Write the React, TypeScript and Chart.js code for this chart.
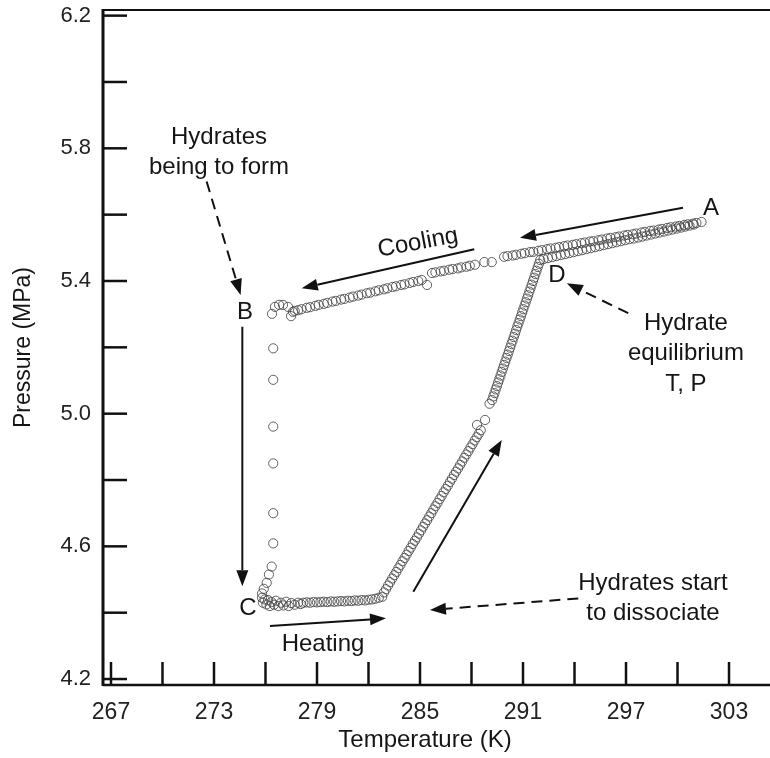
import React, { useEffect, useRef } from "react";
import { Chart, registerables } from "chart.js";
Chart.register(...registerables);

// Axis ticks (every 3 K / 0.2 MPa; every other one labelled)
const xTicks = [267, 270, 273, 276, 279, 282, 285, 288, 291, 294, 297, 300, 303];
const yTicks = [4.2, 4.4, 4.6, 4.8, 5.0, 5.2, 5.4, 5.6, 5.8, 6.0, 6.2];

// Cooling from A (upper band)
const coolingA: [number, number][] = [
  [301.4, 5.578], [301.1, 5.575], [300.9, 5.573], [300.6, 5.571], [300.4, 5.569], [300.1, 5.566],
  [299.9, 5.564], [299.6, 5.562], [299.4, 5.56], [299.1, 5.557], [298.9, 5.555], [298.6, 5.552],
  [298.4, 5.551], [298.1, 5.548], [297.9, 5.546], [297.6, 5.543], [297.4, 5.541], [297.1, 5.539],
  [296.9, 5.537], [296.6, 5.534], [296.4, 5.532], [296.1, 5.53], [295.9, 5.528], [295.6, 5.525],
  [295.4, 5.523], [295.1, 5.52], [294.9, 5.519], [294.6, 5.516], [294.4, 5.514], [294.1, 5.511],
  [293.9, 5.509], [293.6, 5.507], [293.4, 5.505], [293.1, 5.502], [292.9, 5.5], [292.6, 5.498],
  [292.4, 5.496], [292.1, 5.493], [291.9, 5.491], [291.6, 5.488], [291.4, 5.487], [291.1, 5.484],
  [290.9, 5.482], [290.6, 5.479], [290.4, 5.477], [290.1, 5.475], [289.9, 5.473],
  [289.18, 5.457], [288.75, 5.457],
];

// Cooling, middle part
const coolingMid: [number, number][] = [
  [288.2, 5.449], [287.9, 5.446], [287.7, 5.443], [287.4, 5.441], [287.2, 5.438], [286.9, 5.436],
  [286.7, 5.434], [286.4, 5.431], [286.2, 5.429], [285.9, 5.426], [285.7, 5.424], [285.41, 5.388],
];

// Cooling, approaching B
const coolingB: [number, number][] = [
  [285.1, 5.403], [284.9, 5.4], [284.6, 5.397], [284.4, 5.394], [284.1, 5.39], [283.9, 5.388],
  [283.6, 5.384], [283.4, 5.382], [283.1, 5.378], [282.9, 5.375], [282.6, 5.372], [282.4, 5.369],
  [282.1, 5.365], [281.9, 5.363], [281.6, 5.359], [281.4, 5.356], [281.1, 5.353], [280.9, 5.35],
  [280.6, 5.346], [280.4, 5.344], [280.1, 5.34], [279.9, 5.338], [279.6, 5.334], [279.4, 5.331],
  [279.1, 5.328], [278.9, 5.325], [278.6, 5.321], [278.4, 5.319], [278.1, 5.315], [277.9, 5.312],
  [277.7, 5.31], [277.6, 5.307], [277.49, 5.294], [277.31, 5.322], [277.02, 5.328], [276.79, 5.328],
  [276.55, 5.322], [276.38, 5.301],
];

// Hydrate formation: pressure drop B -> C
const dropBC: [number, number][] = [
  [276.45, 5.197], [276.45, 5.102], [276.45, 4.961], [276.45, 4.85], [276.45, 4.7], [276.45, 4.609],
  [276.36, 4.539], [276.2, 4.515], [276.07, 4.49], [275.9, 4.472], [275.8, 4.458],
];

// Heating from C (flat part)
const heatingC: [number, number][] = [
  [275.8, 4.445], [275.85, 4.43], [275.95, 4.44], [276.05, 4.425], [276.15, 4.438], [276.25, 4.42],
  [276.35, 4.432], [276.5, 4.424], [276.6, 4.436], [276.75, 4.42], [276.9, 4.43], [277.05, 4.422],
  [277.2, 4.433], [277.35, 4.42], [277.5, 4.429], [277.7, 4.424], [277.9, 4.43], [278.05, 4.426],
  [278.2, 4.43], [278.4, 4.431], [278.6, 4.43], [278.8, 4.432], [279.0, 4.431], [279.2, 4.432],
  [279.4, 4.433], [279.6, 4.432], [279.8, 4.434], [280.0, 4.433], [280.2, 4.434], [280.4, 4.435],
  [280.6, 4.434], [280.8, 4.436], [281.0, 4.435], [281.2, 4.437], [281.4, 4.436], [281.6, 4.438],
  [281.8, 4.437], [282.0, 4.439], [282.2, 4.44], [282.4, 4.442], [282.6, 4.445], [282.8, 4.448],
];

// Heating: hydrates dissociating
const heatingDiss: [number, number][] = [
  [282.9, 4.461], [283.02, 4.471], [283.14, 4.482], [283.26, 4.492], [283.38, 4.503], [283.5, 4.513],
  [283.62, 4.523], [283.74, 4.534], [283.86, 4.544], [283.98, 4.555], [284.1, 4.565], [284.22, 4.575],
  [284.34, 4.586], [284.46, 4.596], [284.58, 4.607], [284.7, 4.617], [284.82, 4.627], [284.94, 4.638],
  [285.06, 4.648], [285.18, 4.659], [285.3, 4.669], [285.42, 4.679], [285.54, 4.69], [285.66, 4.7],
  [285.78, 4.711], [285.9, 4.721], [286.02, 4.731], [286.14, 4.742], [286.26, 4.752], [286.38, 4.763],
  [286.5, 4.773], [286.62, 4.783], [286.74, 4.794], [286.86, 4.804], [286.98, 4.815], [287.1, 4.825],
  [287.22, 4.835], [287.34, 4.846], [287.46, 4.856], [287.58, 4.867], [287.7, 4.877], [287.82, 4.887],
  [287.94, 4.898], [288.06, 4.908], [288.18, 4.919], [288.3, 4.929], [288.42, 4.939], [288.54, 4.95],
  [288.32, 4.966], [288.79, 4.981],
];

// Heating up to D
const heatingD: [number, number][] = [
  [289.05, 5.03], [289.2, 5.041], [289.27, 5.052], [289.34, 5.062], [289.41, 5.073], [289.48, 5.083],
  [289.55, 5.094], [289.62, 5.104], [289.69, 5.115], [289.76, 5.126], [289.83, 5.136], [289.9, 5.147],
  [289.97, 5.157], [290.04, 5.168], [290.11, 5.178], [290.18, 5.189], [290.25, 5.199], [290.32, 5.21],
  [290.39, 5.22], [290.46, 5.231], [290.53, 5.241], [290.6, 5.252], [290.67, 5.263], [290.74, 5.273],
  [290.81, 5.284], [290.88, 5.294], [290.95, 5.305], [291.02, 5.315], [291.09, 5.326], [291.16, 5.336],
  [291.23, 5.347], [291.3, 5.357], [291.37, 5.368], [291.44, 5.378], [291.51, 5.389], [291.58, 5.4],
  [291.65, 5.41], [291.72, 5.421], [291.79, 5.431], [291.86, 5.442], [291.93, 5.452], [292.0, 5.463],
];

// Heating from D back towards A (lower band)
const heatingA: [number, number][] = [
  [292.2, 5.466], [292.45, 5.469], [292.7, 5.472], [292.95, 5.475], [293.2, 5.478], [293.45, 5.481],
  [293.7, 5.484], [293.95, 5.487], [294.2, 5.49], [294.45, 5.493], [294.7, 5.496], [294.95, 5.499],
  [295.2, 5.502], [295.45, 5.505], [295.7, 5.508], [295.95, 5.511], [296.2, 5.514], [296.45, 5.517],
  [296.7, 5.52], [296.95, 5.523], [297.2, 5.526], [297.45, 5.528], [297.7, 5.531], [297.95, 5.534],
  [298.2, 5.537], [298.45, 5.54], [298.7, 5.543], [298.95, 5.546], [299.2, 5.549], [299.45, 5.552],
  [299.7, 5.555], [299.95, 5.558], [300.2, 5.561], [300.45, 5.564], [300.7, 5.567], [300.95, 5.57],
];

const series = [coolingA, coolingMid, coolingB, dropBC, heatingC, heatingDiss, heatingD, heatingA];

// Annotations (data coordinates: K, MPa)
type Note = { lines: string[]; x: number; y: number; rot?: number };
const notes: Note[] = [
  { lines: ["A"], x: 301.95, y: 5.62 },
  { lines: ["B"], x: 274.81, y: 5.304 },
  { lines: ["C"], x: 274.98, y: 4.414 },
  { lines: ["D"], x: 292.98, y: 5.418 },
  { lines: ["Cooling"], x: 284.88, y: 5.515, rot: -10.5 },
  { lines: ["Heating"], x: 279.35, y: 4.303 },
  { lines: ["Hydrates", "being to form"], x: 273.29, y: 5.834 },
  { lines: ["Hydrate", "equilibrium", "T, P"], x: 300.49, y: 5.273 },
  { lines: ["Hydrates start", "to dissociate"], x: 298.57, y: 4.489 },
];

type Arrow = { from: [number, number]; to: [number, number]; dashed?: boolean };
const arrows: Arrow[] = [
  { from: [300.32, 5.621], to: [290.82, 5.53] },
  { from: [288.16, 5.496], to: [278.11, 5.378] },
  { from: [274.65, 5.262], to: [274.65, 4.48] },
  { from: [276.26, 4.36], to: [283.02, 4.383] },
  { from: [284.61, 4.463], to: [289.76, 4.921] },
  { from: [294.22, 4.443], to: [285.58, 4.408], dashed: true },
  { from: [272.57, 5.7], to: [274.55, 5.358], dashed: true },
  { from: [297.13, 5.303], to: [293.55, 5.393], dashed: true },
];

const FONT = '"Liberation Sans", Arial, Helvetica, sans-serif';

function drawArrow(ctx: CanvasRenderingContext2D, x1: number, y1: number, x2: number, y2: number, dashed?: boolean) {
  const ang = Math.atan2(y2 - y1, x2 - x1);
  const hl = 16;
  const hw = 6;
  const bx = x2 - hl * Math.cos(ang);
  const by = y2 - hl * Math.sin(ang);
  ctx.lineWidth = 2;
  ctx.setLineDash(dashed ? [11, 7] : []);
  ctx.beginPath();
  ctx.moveTo(x1, y1);
  ctx.lineTo(bx, by);
  ctx.stroke();
  ctx.setLineDash([]);
  ctx.beginPath();
  ctx.moveTo(x2, y2);
  ctx.lineTo(bx + hw * Math.sin(ang), by - hw * Math.cos(ang));
  ctx.lineTo(bx - hw * Math.sin(ang), by + hw * Math.cos(ang));
  ctx.closePath();
  ctx.fill();
}

const overlay = {
  id: "overlay",
  afterDatasetsDraw(chart: any) {
    const { ctx, chartArea, scales } = chart;
    const xs = scales.x;
    const ys = scales.y;
    ctx.save();
    ctx.strokeStyle = "#111";
    ctx.fillStyle = "#111";
    // frame
    ctx.lineWidth = 2;
    ctx.beginPath();
    ctx.moveTo(chartArea.left, chartArea.top);
    ctx.lineTo(chartArea.right, chartArea.top);
    ctx.stroke();
    ctx.lineWidth = 3;
    ctx.beginPath();
    ctx.moveTo(chartArea.left, chartArea.top - 1);
    ctx.lineTo(chartArea.left, chartArea.bottom + 1);
    ctx.stroke();
    ctx.lineWidth = 2.5;
    ctx.beginPath();
    ctx.moveTo(chartArea.left, chartArea.bottom);
    ctx.lineTo(chartArea.right, chartArea.bottom);
    ctx.stroke();
    // inward ticks
    ctx.lineWidth = 2.5;
    ys.ticks.forEach((t: any) => {
      const py = ys.getPixelForValue(t.value);
      ctx.beginPath();
      ctx.moveTo(chartArea.left, py);
      ctx.lineTo(chartArea.left + 24, py);
      ctx.stroke();
    });
    xs.ticks.forEach((t: any) => {
      const px = xs.getPixelForValue(t.value);
      ctx.beginPath();
      ctx.moveTo(px, chartArea.bottom);
      ctx.lineTo(px, chartArea.bottom - 23);
      ctx.stroke();
    });
    // arrows
    arrows.forEach((a) => {
      drawArrow(
        ctx,
        xs.getPixelForValue(a.from[0]),
        ys.getPixelForValue(a.from[1]),
        xs.getPixelForValue(a.to[0]),
        ys.getPixelForValue(a.to[1]),
        a.dashed
      );
    });
    // texts
    ctx.font = `24px ${FONT}`;
    ctx.fillStyle = "#151515";
    ctx.textAlign = "center";
    ctx.textBaseline = "middle";
    notes.forEach((n) => {
      const px = xs.getPixelForValue(n.x);
      const py = ys.getPixelForValue(n.y);
      ctx.save();
      ctx.translate(px, py);
      if (n.rot) ctx.rotate((n.rot * Math.PI) / 180);
      n.lines.forEach((l, i) => ctx.fillText(l, 0, i * 30.5));
      ctx.restore();
    });
    // x-axis title
    ctx.fillText("Temperature (K)", 425, 740);
    ctx.restore();
  },
};

export default function App() {
  const ref = useRef<HTMLCanvasElement | null>(null);
  useEffect(() => {
    if (!ref.current) return;
    const chart = new Chart(ref.current, {
      type: "scatter",
      data: {
        datasets: series.map((s) => ({
          data: s.map(([x, y]) => ({ x, y })),
          pointStyle: "circle",
          pointRadius: 4.6,
          pointBorderWidth: 1,
          borderColor: "rgba(70,70,70,0.85)",
          backgroundColor: "rgba(0,0,0,0)",
          showLine: false,
        })),
      },
      options: {
        animation: false,
        responsive: false,
        events: [],
        layout: { autoPadding: false, padding: { top: 10, right: 0, left: 0, bottom: 0 } },
        plugins: { legend: { display: false }, tooltip: { enabled: false } },
        scales: {
          x: {
            type: "linear",
            min: 266.534,
            max: 305.388,
            grid: { display: false, drawTicks: false },
            border: { display: false },
            afterBuildTicks: (s: any) => {
              s.ticks = xTicks.map((v) => ({ value: v }));
            },
            afterFit: (s: any) => {
              s.height = 73;
              s.paddingLeft = 0;
              s.paddingRight = 0;
            },
            ticks: {
              autoSkip: false,
              maxRotation: 0,
              padding: 14,
              color: "#222",
              font: { family: FONT, size: 23 },
              callback: (v: any, i: number) => (i % 2 === 0 ? String(v) : ""),
            },
          },
          y: {
            type: "linear",
            min: 4.182,
            max: 6.217,
            grid: { display: false, drawTicks: false },
            border: { display: false },
            afterBuildTicks: (s: any) => {
              s.ticks = yTicks.map((v) => ({ value: v }));
            },
            afterFit: (s: any) => {
              s.width = 103;
              s.paddingTop = 0;
              s.paddingBottom = 0;
            },
            title: {
              display: true,
              text: "Pressure (MPa)",
              color: "#151515",
              font: { family: FONT, size: 23 },
              padding: { top: 10, bottom: 0 },
            },
            ticks: {
              autoSkip: false,
              padding: 12,
              color: "#222",
              font: { family: FONT, size: 22 },
              callback: (v: any, i: number) => (i % 2 === 0 ? Number(v).toFixed(1) : ""),
            },
          },
        },
      },
      plugins: [overlay],
    });
    return () => chart.destroy();
  }, []);
  return (
    <div style={{ position: "absolute", left: 0, top: 0, width: 770, height: 758, background: "#fff" }}>
      <canvas ref={ref} width={770} height={758} style={{ display: "block" }} />
    </div>
  );
}
